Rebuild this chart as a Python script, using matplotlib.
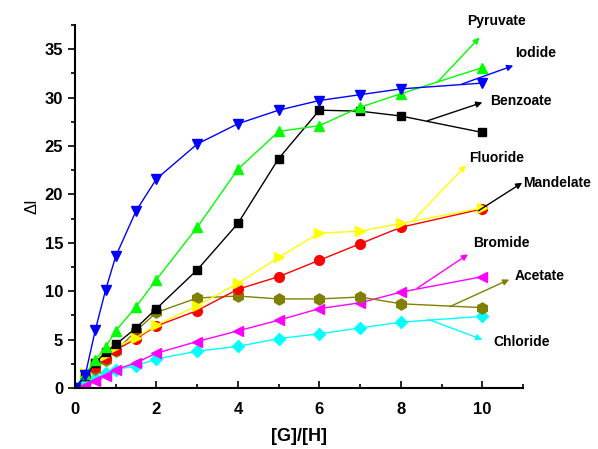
import matplotlib.pyplot as plt
import numpy as np

plt.rcParams['font.family'] = ['Liberation Sans', 'DejaVu Sans']

# guest/host ratios
x = [0, 0.25, 0.5, 0.75, 1, 1.5, 2, 3, 4, 5, 6, 7, 8, 10]

iodide = [0, 1.3, 6.0, 10.1, 13.6, 18.3, 21.6, 25.2, 27.3, 28.7, 29.7, 30.3, 30.9, 31.5]
pyruvate = [0, 1.4, 2.9, 4.2, 5.9, 8.4, 11.2, 16.6, 22.6, 26.5, 27.1, 29.0, 30.4, 33.1]
benzoate = [0, 1.2, 2.6, 3.7, 4.5, 6.2, 8.2, 12.2, 17.0, 23.7, 28.7, 28.6, 28.1, 26.4]
fluoride = [0, 1.5, 2.6, 3.4, 4.2, 5.2, 6.5, 8.5, 10.8, 13.5, 16.0, 16.2, 17.0, 18.6]
mandelate = [0, 1.3, 2.2, 3.1, 3.9, 5.1, 6.4, 8.0, 10.2, 11.5, 13.2, 14.9, 16.6, 18.5]
acetate = [0, 1.3, 2.0, 2.9, 3.8, 5.9, 7.8, 9.3, 9.5, 9.2, 9.2, 9.4, 8.7, 8.3]
bromide = [0, 0.2, 0.7, 1.2, 1.9, 2.6, 3.6, 4.8, 5.9, 7.0, 8.2, 8.8, 9.9, 11.5]
chloride = [0, 0.5, 1.0, 1.5, 1.9, 2.3, 3.0, 3.8, 4.3, 5.1, 5.6, 6.2, 6.8, 7.4]

fig = plt.figure(figsize=(5.98, 4.49), dpi=100)
ax = fig.add_axes([0.1254, 0.1359, 0.7492, 0.8084])

series = [
    (chloride, 'cyan', 'D', 6),
    (bromide, 'magenta', '<', 7),
    (acetate, '#808000', 'h', 8),
    (mandelate, 'red', 'o', 7),
    (fluoride, 'yellow', '>', 7),
    (benzoate, 'black', 's', 6),
    (pyruvate, '#00ff00', '^', 7),
    (iodide, 'blue', 'v', 7),
]
for ys, c, m, ms in series:
    ax.plot(x, ys, color=c, marker=m, markersize=ms, lw=1)

# arrows to labels: (label, colour, arrow start, arrow end, text pos)
labels = [
    ('Pyruvate', '#00ff00', (8.9, 31.6), (9.93, 36.2), (9.64, 37.95)),
    ('Iodide', 'blue', (9.5, 31.4), (10.76, 33.3), (10.8, 34.6)),
    ('Benzoate', 'black', (8.65, 27.6), (10.0, 29.5), (10.2, 29.7)),
    ('Fluoride', 'yellow', (8.3, 17.3), (9.6, 23.0), (9.68, 23.8)),
    ('Mandelate', 'black', (9.9, 18.3), (10.98, 21.2), (11.0, 21.2)),
    ('Bromide', 'magenta', (8.4, 10.3), (9.65, 13.8), (9.78, 15.0)),
    ('Acetate', '#808000', (9.2, 8.4), (10.66, 11.2), (10.8, 11.6)),
    ('Chloride', 'cyan', (8.67, 7.1), (10.0, 5.0), (10.27, 4.7)),
]
for name, c, p0, p1, tp in labels:
    ax.annotate('', xy=p1, xytext=p0, annotation_clip=False,
                arrowprops=dict(arrowstyle='-|>', color=c, lw=1,
                                mutation_scale=9, shrinkA=0, shrinkB=0))
    ax.text(tp[0], tp[1], name, fontsize=10, fontweight='bold',
            ha='left', va='center', clip_on=False)

ax.set_xlim(0, 11)
ax.set_ylim(0, 37.5)
ax.set_xticks([0, 2, 4, 6, 8, 10])
ax.set_xticks(np.arange(0, 11.1, 1), minor=True)
ax.set_yticks([0, 5, 10, 15, 20, 25, 30, 35])
ax.set_yticks(np.arange(0, 37.6, 2.5), minor=True)
for s in ['top', 'right']:
    ax.spines[s].set_visible(False)
for s in ['left', 'bottom']:
    ax.spines[s].set_linewidth(1.5)
ax.tick_params(axis='x', which='both', direction='in', width=1.2, pad=10)
ax.tick_params(axis='y', which='both', direction='out', width=1.2)
ax.tick_params(which='major', length=5, labelsize=12)
ax.tick_params(which='minor', length=3)
for lab in ax.get_xticklabels() + ax.get_yticklabels():
    lab.set_fontweight('bold')

ax.set_xlabel('[G]/[H]', fontsize=13, fontweight='bold', labelpad=8)
ax.set_ylabel('ΔI', fontsize=12, labelpad=4)

fig.savefig('out.png', dpi=100)
